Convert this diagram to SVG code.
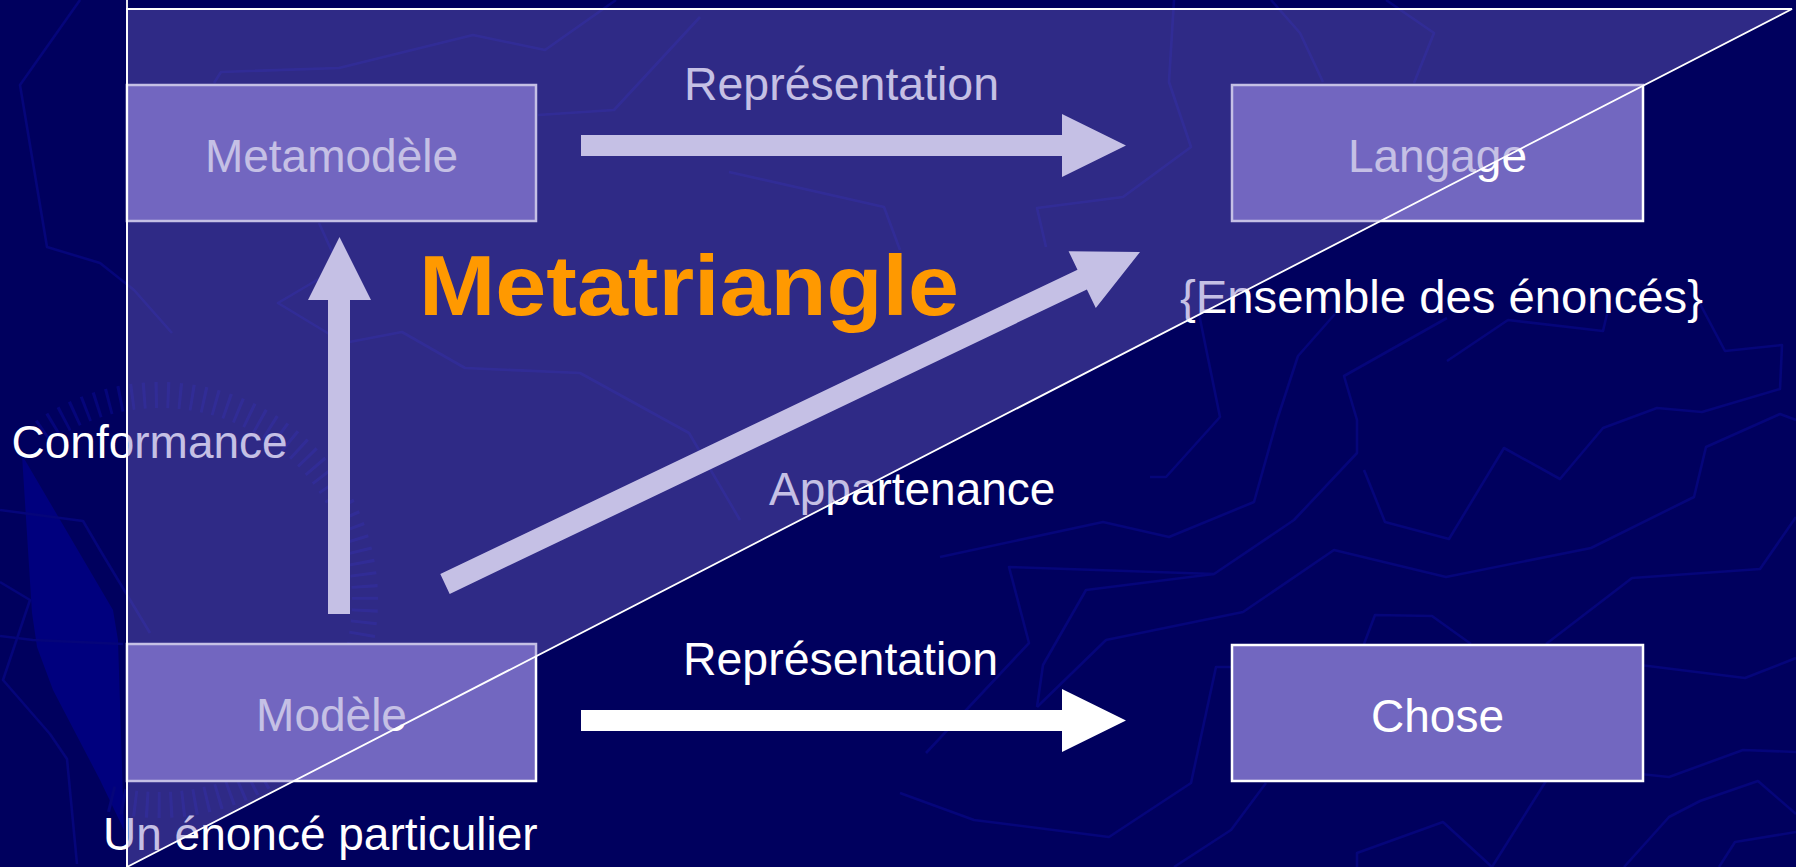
<svg xmlns="http://www.w3.org/2000/svg" width="1796" height="867" viewBox="0 0 1796 867">
<style>
.bgl{fill:none;stroke:#05057A;stroke-width:2.6;stroke-linejoin:round}
.box{fill:#7267C0;stroke:#FFFFFF;stroke-width:2.5}
.lbl{font-family:"Liberation Sans",Arial,sans-serif;font-size:46px;fill:#FFFFFF}
.arr{fill:#FFFFFF}
</style>
<rect x="0" y="0" width="1796" height="867" fill="#00005E"/>
<g id="background">
<polygon points="22,455 113,610 118,640 124,830 100,780 53,690 37,647 32,613" fill="#00007E"/>
<path d="M 42.4,432.1 A 205,205 0 1 1 106.9,798" fill="none" stroke="#05057A" stroke-width="26" stroke-dasharray="3 9"/>
<polyline class="bgl" points="80,0 20,85 47,247 100,263 134,290 172,333"/>
<polyline class="bgl" points="214,83 221,72 339,68 473,35 545,50 616,0"/>
<polyline class="bgl" points="538,115 614,110 700,17"/>
<polyline class="bgl" points="319,223 339,267 278,303 344,343 402,332 465,368 580,373 689,433 740,520"/>
<polyline class="bgl" points="729,172 884,207 900,250"/>
<polyline class="bgl" points="1174,0 1169,82 1191,147 1123,197 1037,208 1046,247"/>
<polyline class="bgl" points="1271,0 1300,33 1323,82"/>
<polyline class="bgl" points="1386,0 1434,33 1414,83"/>
<polyline class="bgl" points="926,753 969,707 1029,643 1009,567 1214,574 1294,520 1357,453 1357,420 1344,376 1447,318"/>
<polyline class="bgl" points="940,557 1103,522 1169,537 1254,502 1277,420 1298,356 1335,314"/>
<polyline class="bgl" points="1150,477 1166,477 1220,417 1199,314"/>
<polyline class="bgl" points="1037,707 1043,665 1086,590 1214,574"/>
<polyline class="bgl" points="1037,707 1106,640 1243,612 1334,550 1446,577 1591,548 1694,497 1706,447 1780,414 1796,420"/>
<polyline class="bgl" points="1364,470 1385,522 1449,539 1504,448 1560,479 1603,428 1657,408 1702,412 1780,389 1782,345 1725,351 1698,300"/>
<polyline class="bgl" points="1447,361 1508,320 1603,331 1607,314"/>
<polyline class="bgl" points="900,793 974,820 1109,837 1191,783 1216,667 1231,667"/>
<polyline class="bgl" points="1174,867 1231,830 1266,783"/>
<polyline class="bgl" points="1364,644 1375,615 1432,616 1471,644"/>
<polyline class="bgl" points="1546,644 1632,578 1760,569 1796,517"/>
<polyline class="bgl" points="1640,665 1745,678 1796,658"/>
<polyline class="bgl" points="1640,774 1669,777 1743,750 1796,752"/>
<polyline class="bgl" points="1357,867 1357,853 1443,822 1492,867 1546,781"/>
<polyline class="bgl" points="1624,867 1669,817 1700,801 1758,781 1796,814"/>
<polyline class="bgl" points="1719,867 1735,842 1796,832"/>
<polyline class="bgl" points="0,510 83,521 100,550 150,633"/>
<polyline class="bgl" points="0,636 33,640 123,644"/>
<polyline class="bgl" points="0,582 30,600 3,680 50,734 67,759 77,864"/>
</g>
<g id="connectors">
<polygon id="arrow-representation-top" class="arr" points="581,135 1062,135 1062,114 1126,145.5 1062,177 1062,156 581,156"/>
<polygon id="arrow-representation-bottom" class="arr" points="581,710 1062,710 1062,689 1126,720.5 1062,752 1062,731 581,731"/>
<polygon id="arrow-conformance" class="arr" points="328,614 328,300 308,300 339.5,237 371,300 350,300 350,614"/>
<polygon id="arrow-appartenance" class="arr" points="440.3,574.1 1077.5,269.7 1068.6,251.2 1140,252 1095.8,308 1086.9,289.5 449.7,593.9"/>
</g>
<g id="node-metamodele">
<rect class="box" x="127" y="85" width="409" height="136"/>
<text class="lbl" x="331.5" y="172" text-anchor="middle">Metamodèle</text>
</g>
<g id="node-langage">
<rect class="box" x="1232" y="85" width="411" height="136"/>
<text class="lbl" x="1437.5" y="172" text-anchor="middle">Langage</text>
</g>
<g id="node-modele">
<rect class="box" x="127" y="644" width="409" height="137"/>
<text class="lbl" x="331.5" y="731" text-anchor="middle">Modèle</text>
</g>
<g id="node-chose">
<rect class="box" x="1232" y="645" width="411" height="136"/>
<text class="lbl" x="1437.5" y="732" text-anchor="middle">Chose</text>
</g>
<g id="labels">
<text class="lbl" x="684" y="100" textLength="315" lengthAdjust="spacingAndGlyphs">Représentation</text>
<text class="lbl" x="683" y="675" textLength="315" lengthAdjust="spacingAndGlyphs">Représentation</text>
<text class="lbl" x="11.5" y="458">Conformance</text>
<text class="lbl" x="769" y="505">Appartenance</text>
<text class="lbl" x="1180" y="313" textLength="523" lengthAdjust="spacingAndGlyphs">{Ensemble des énoncés}</text>
<text class="lbl" x="103" y="850">Un énoncé particulier</text>
</g>
<g id="metatriangle">
<polygon points="127,9 1792,9 127,867" fill="#7267C0" fill-opacity="0.41"/>
<polyline points="127,867 127,9 1792,9 127,867" fill="none" stroke="#FFFFFF" stroke-width="1.8"/>
<line x1="127" y1="0" x2="127" y2="867" stroke="#FFFFFF" stroke-width="1.8"/>
<text x="419" y="315" textLength="540" lengthAdjust="spacingAndGlyphs" style="font-family:'Liberation Sans',Arial,sans-serif;font-size:86px;font-weight:bold;fill:#FF9900">Metatriangle</text>
</g>
</svg>
